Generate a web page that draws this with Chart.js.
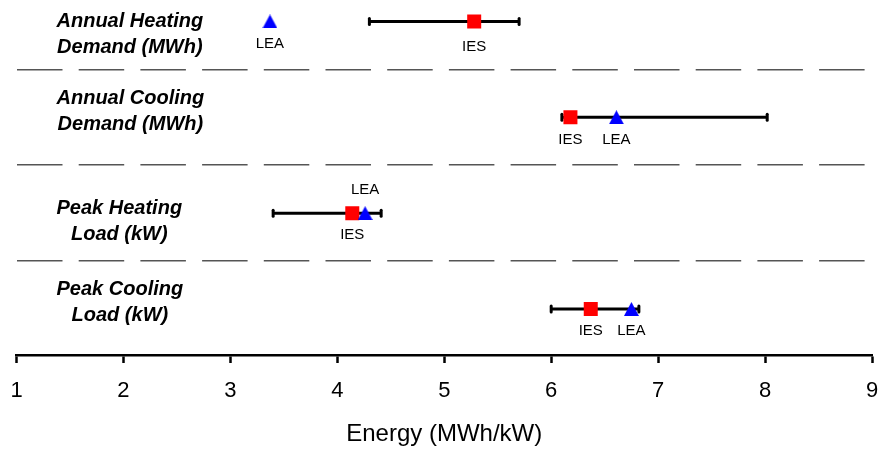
<!DOCTYPE html>
<html>
<head>
<meta charset="utf-8">
<script src="https://cdn.jsdelivr.net/npm/chart.js@4/dist/chart.umd.min.js"></script>
<style>
  html, body { margin: 0; padding: 0; background: #fff; }
  #wrap { width: 882px; height: 452px; }
</style>
</head>
<body>
<div id="wrap"><canvas id="chart"></canvas></div>
<script>
// rows, top to bottom
const rowLabels = [
    ['Annual Heating', 'Demand (MWh)'],
    ['Annual Cooling', 'Demand (MWh)'],
    ['Peak Heating', 'Load (kW)'],
    ['Peak Cooling', 'Load (kW)']
];
const rowPos = [4, 3, 2, 1];
const iesValues = [5.28, 6.18, 4.14, 6.37];
const leaValues = [3.37, 6.61, 4.26, 6.75];
const rangeLow = [4.30, 6.10, 3.40, 6.00];
const rangeHigh = [5.70, 8.02, 4.41, 6.82];
const xTicks = [1, 2, 3, 4, 5, 6, 7, 8, 9];
const separators = [3.5, 2.5, 1.5];

const FONT = 'Arial, "Liberation Sans", sans-serif';

// blue triangle centred on its own box
function triangleImage(w, h, color) {
    const c = document.createElement('canvas');
    c.width = w; c.height = h;
    const g = c.getContext('2d');
    g.fillStyle = color;
    g.beginPath();
    g.moveTo(w / 2, 0);
    g.lineTo(w, h);
    g.lineTo(0, h);
    g.closePath();
    g.fill();
    return c;
}

// black range bars with end caps, behind the markers
const rangeBars = {
    id: 'rangeBars',
    beforeDatasetsDraw(chart) {
        const ctx = chart.ctx, xs = chart.scales.x, ys = chart.scales.y;
        ctx.save();
        ctx.strokeStyle = '#000';
        ctx.lineWidth = 3;
        rowPos.forEach((r, i) => {
            const y = ys.getPixelForValue(r);
            const x1 = xs.getPixelForValue(rangeLow[i]);
            const x2 = xs.getPixelForValue(rangeHigh[i]);
            ctx.lineCap = 'butt';
            ctx.beginPath();
            ctx.moveTo(x1, y);
            ctx.lineTo(x2, y);
            ctx.stroke();
            ctx.lineCap = 'round';
            [x1, x2].forEach(x => {
                ctx.beginPath();
                ctx.moveTo(x, y - 3);
                ctx.lineTo(x, y + 3);
                ctx.stroke();
            });
        });
        ctx.restore();
    }
};

// IES / LEA text next to each marker
const markerText = {
    id: 'markerText',
    afterDatasetsDraw(chart) {
        const ctx = chart.ctx, xs = chart.scales.x, ys = chart.scales.y;
        const iesDy = [25, 22.5, 22, 22];
        const leaDy = [22, 22.5, -23.5, 22];
        ctx.save();
        ctx.font = '15px ' + FONT;
        ctx.fillStyle = '#000';
        ctx.textAlign = 'center';
        ctx.textBaseline = 'middle';
        rowPos.forEach((r, i) => {
            const y = ys.getPixelForValue(r);
            ctx.fillText('IES', xs.getPixelForValue(iesValues[i]), y + iesDy[i]);
            ctx.fillText('LEA', xs.getPixelForValue(leaValues[i]), y + leaDy[i]);
        });
        ctx.restore();
    }
};

// bold italic row names on the left
const rowNames = {
    id: 'rowNames',
    afterDraw(chart) {
        const ctx = chart.ctx, ys = chart.scales.y;
        const firstDy = [0.5, -19, -5, -19.5];
        const left = chart.chartArea.left + 40;
        ctx.save();
        ctx.font = 'italic bold 20px ' + FONT;
        ctx.fillStyle = '#000';
        ctx.textAlign = 'center';
        ctx.textBaseline = 'middle';
        rowLabels.forEach((lines, i) => {
            const y = ys.getPixelForValue(rowPos[i]) + firstDy[i];
            const w = Math.max(...lines.map(t => ctx.measureText(t).width));
            lines.forEach((t, k) => ctx.fillText(t, left + w / 2, y + k * 26));
        });
        ctx.restore();
    }
};

function noScalePadding(s) {
    s.paddingLeft = 0;
    s.paddingRight = 0;
    s.paddingTop = 0;
    s.paddingBottom = 0;
}

new Chart(document.getElementById('chart'), {
    type: 'scatter',
    data: {
        datasets: [
            {
                label: 'LEA',
                data: leaValues.map((v, i) => ({ x: v, y: rowPos[i] })),
                pointStyle: triangleImage(15, 14, '#0000ff'),
                order: 1
            },
            {
                label: 'IES',
                data: iesValues.map((v, i) => ({ x: v, y: rowPos[i] })),
                pointStyle: 'rect',
                pointRadius: 9.9,
                pointBackgroundColor: '#ff0000',
                pointBorderWidth: 0,
                order: 2
            }
        ]
    },
    options: {
        responsive: true,
        maintainAspectRatio: false,
        animation: false,
        layout: { autoPadding: false, padding: { left: 16.5, right: 10, top: 0, bottom: 3.5 } },
        plugins: {
            legend: { display: false },
            tooltip: { enabled: false }
        },
        scales: {
            x: {
                type: 'linear',
                min: 1,
                max: 9,
                afterBuildTicks: s => { s.ticks = xTicks.map(v => ({ value: v })); },
                afterFit: s => { noScalePadding(s); s.height = 93.5; },
                ticks: { font: { size: 22, family: FONT }, color: '#000', padding: 15 },
                grid: { drawOnChartArea: false, drawTicks: true, tickLength: 8, tickWidth: 2.5, tickColor: '#000' },
                border: { display: true, color: '#000', width: 2.5 },
                title: {
                    display: true,
                    text: 'Energy (MWh/kW)',
                    font: { size: 24, family: FONT },
                    color: '#000',
                    padding: { top: 12, bottom: 0 }
                }
            },
            y: {
                type: 'linear',
                min: 0.52,
                max: 4.224,
                afterBuildTicks: s => { s.ticks = separators.map(v => ({ value: v })); },
                afterFit: s => { noScalePadding(s); s.width = 0; },
                ticks: { display: false },
                grid: { color: '#555', lineWidth: 1.5, drawTicks: false },
                border: { display: false, dash: [45.5, 16.2] }
            }
        }
    },
    plugins: [rangeBars, markerText, rowNames]
});
</script>
</body>
</html>
